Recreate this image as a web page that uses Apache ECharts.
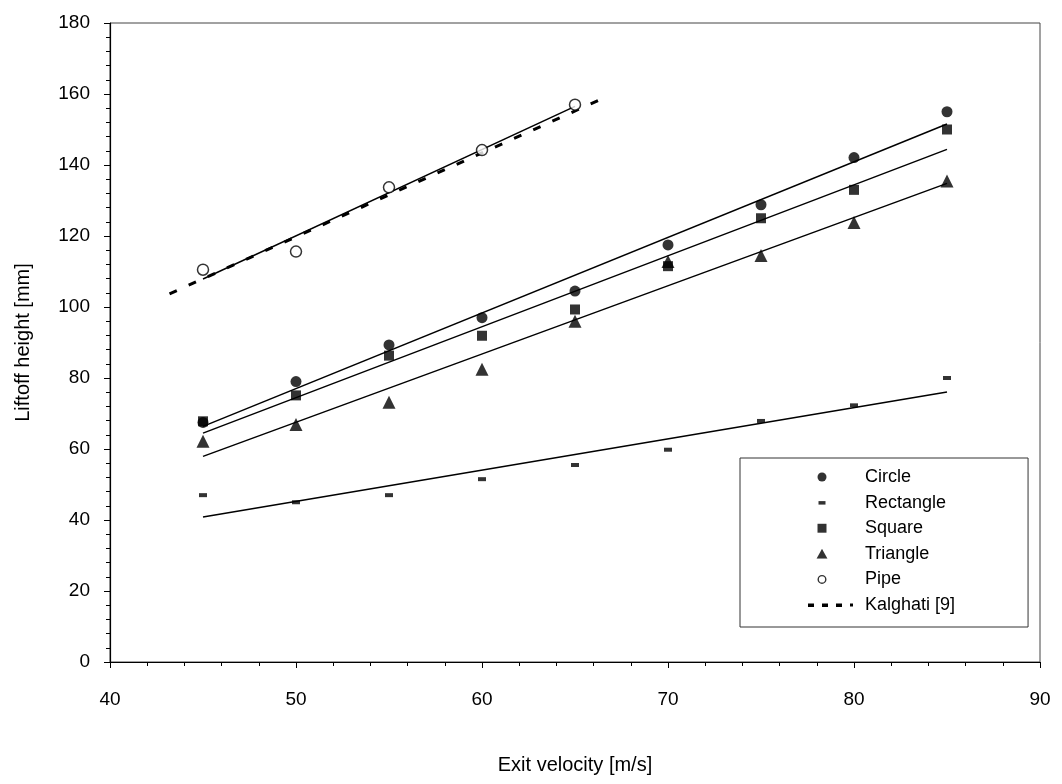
<!DOCTYPE html>
<html>
<head>
<meta charset="utf-8">
<script src="https://cdn.jsdelivr.net/npm/echarts@6/dist/echarts.min.js"></script>
<style>
  html, body { margin: 0; padding: 0; background: #fff; }
  #chart { width: 1062px; height: 784px; }
</style>
</head>
<body>
<div id="chart"></div>
<script>
// Exit velocity [m/s] for each nozzle series
const velocity = [45, 50, 55, 60, 65, 70, 75, 80, 85];
// Liftoff height [mm] per nozzle shape
const circle    = [67.5, 79, 89.3, 97, 104.5, 117.5, 128.8, 142.1, 155];
const rectangle = [47, 45, 47, 51.5, 55.5, 59.8, 67.9, 72.3, 80];
const square    = [67.8, 75.1, 86.3, 91.9, 99.3, 111.5, 125, 133, 150];
const triangle  = [62.2, 66.9, 73.2, 82.5, 96, 112.8, 114.5, 123.8, 135.5];
// Pipe nozzle
const pipeVelocity = [45, 50, 55, 60, 65];
const pipe         = [110.5, 115.6, 133.7, 144.2, 157];
// Kalghati [9] correlation, end points
const kalghatiVelocity = [43.2, 66.6];
const kalghati         = [103.7, 159];

const xTicks = [40, 50, 60, 70, 80, 90];
const yTicks = [0, 20, 40, 60, 80, 100, 120, 140, 160, 180];

const FONT = '"Liberation Sans", Arial, sans-serif';

function pairs(xs, ys) { return xs.map((x, i) => [x, ys[i]]); }

// least-squares straight line through a set of points, drawn over their x range
function fitLine(xs, ys) {
  const n = xs.length;
  const mx = xs.reduce((a, b) => a + b, 0) / n;
  const my = ys.reduce((a, b) => a + b, 0) / n;
  let sxy = 0, sxx = 0;
  for (let i = 0; i < n; i++) {
    sxy += (xs[i] - mx) * (ys[i] - my);
    sxx += (xs[i] - mx) * (xs[i] - mx);
  }
  const b = sxy / sxx, a = my - b * mx;
  const x0 = Math.min(...xs), x1 = Math.max(...xs);
  return [[x0, a + b * x0], [x1, a + b * x1]];
}

function fitSeries(name, xs, ys) {
  return {
    name: name, type: 'line', data: fitLine(xs, ys),
    symbol: 'none', silent: true, z: 2,
    lineStyle: { color: '#000', width: 1.5 }
  };
}

function scatter(name, xs, ys, symbol, size, extra) {
  return Object.assign({
    name: name, type: 'scatter', data: pairs(xs, ys),
    symbol: symbol, symbolSize: size, z: 3,
    itemStyle: { color: '#000' }
  }, extra || {});
}

// legend icons, 48 x 10 boxes with a small marker in them
function svgIcon(body) {
  return 'image://data:image/svg+xml;utf8,' + encodeURIComponent(
    '<svg xmlns="http://www.w3.org/2000/svg" width="48" height="10">' + body + '</svg>');
}
const smallCircleIcon   = svgIcon('<circle cx="14" cy="5" r="4.5" fill="#000"/>');
const dashIcon          = svgIcon('<rect x="10.5" y="3.5" width="7" height="3.5" fill="#000"/>');
const smallSquareIcon   = svgIcon('<rect x="9.5" y="0.5" width="9" height="9" fill="#000"/>');
const smallTriangleIcon = svgIcon('<path d="M14 0 L19.5 10 L8.5 10 Z" fill="#000"/>');
const openCircleIcon    = svgIcon('<circle cx="14" cy="5" r="3.8" fill="#fff" stroke="#000" stroke-width="1.4"/>');
const dashedLineIcon    = svgIcon(
  '<rect x="0" y="3.5" width="6" height="3.5" fill="#000"/>' +
  '<rect x="14" y="3.5" width="6" height="3.5" fill="#000"/>' +
  '<rect x="28" y="3.5" width="6" height="3.5" fill="#000"/>' +
  '<rect x="42" y="3.5" width="3" height="3" fill="#000"/>');

const chart = echarts.init(document.getElementById('chart'));

chart.setOption({
  backgroundColor: '#fff',
  animation: false,
  textStyle: { fontFamily: FONT },
  grid: {
    left: 110, right: 22, top: 23, bottom: 122,
    show: true, borderColor: '#444', borderWidth: 1, backgroundColor: 'transparent'
  },
  xAxis: {
    type: 'value', min: xTicks[0], max: xTicks[xTicks.length - 1], interval: 10,
    name: 'Exit velocity [m/s]', nameLocation: 'middle', nameGap: 93,
    nameTextStyle: { fontFamily: FONT, fontSize: 20, color: '#000' },
    axisLine: { show: true, onZero: false, lineStyle: { color: '#000', width: 1.2 } },
    axisTick: { show: true, length: 6, lineStyle: { color: '#000' } },
    minorTick: { show: true, splitNumber: 5, length: 4, lineStyle: { color: '#000' } },
    splitLine: { show: false },
    axisLabel: { fontFamily: FONT, fontSize: 19, color: '#000', margin: 28 }
  },
  yAxis: {
    type: 'value', min: yTicks[0], max: yTicks[yTicks.length - 1], interval: 20,
    name: 'Liftoff height [mm]', nameLocation: 'middle', nameGap: 77, nameRotate: 90,
    nameTextStyle: { fontFamily: FONT, fontSize: 20, color: '#000' },
    axisLine: { show: true, onZero: false, lineStyle: { color: '#000', width: 1.2 } },
    axisTick: { show: true, length: 6, lineStyle: { color: '#000' } },
    minorTick: { show: true, splitNumber: 5, length: 4, lineStyle: { color: '#000' } },
    splitLine: { show: false },
    axisLabel: { fontFamily: FONT, fontSize: 19, color: '#000', margin: 20 }
  },
  legend: {
    orient: 'vertical', left: 740, top: 458,
    padding: [10, 73, 13, 68],
    borderColor: '#333', borderWidth: 1, backgroundColor: '#fff',
    itemWidth: 48, itemHeight: 10, itemGap: 7.6,
    selectedMode: false,
    textStyle: { fontFamily: FONT, fontSize: 18, color: '#000', padding: [0, 0, 0, 4] },
    data: [
      { name: 'Circle', icon: smallCircleIcon },
      { name: 'Rectangle', icon: dashIcon },
      { name: 'Square', icon: smallSquareIcon },
      { name: 'Triangle', icon: smallTriangleIcon },
      { name: 'Pipe', icon: openCircleIcon },
      { name: 'Kalghati [9]', icon: dashedLineIcon }
    ]
  },
  series: [
    fitSeries('Circle fit', velocity, circle),
    fitSeries('Square fit', velocity, square),
    fitSeries('Triangle fit', velocity, triangle),
    fitSeries('Rectangle fit', velocity, rectangle),
    fitSeries('Pipe fit', pipeVelocity, pipe),
    {
      name: 'Kalghati [9]', type: 'line', data: pairs(kalghatiVelocity, kalghati),
      symbol: 'none', z: 2, silent: true,
      itemStyle: { color: '#000' },
      lineStyle: { color: '#000', width: 3, type: [8, 13] }
    },
    scatter('Circle', velocity, circle, 'circle', 11),
    scatter('Rectangle', velocity, rectangle, 'rect', [8, 4]),
    scatter('Square', velocity, square, 'rect', 10),
    scatter('Triangle', velocity, triangle, 'triangle', 13),
    scatter('Pipe', pipeVelocity, pipe, 'circle', 11, {
      itemStyle: { color: '#fff', borderColor: '#000', borderWidth: 1.5 }
    })
  ]
});
</script>
</body>
</html>
